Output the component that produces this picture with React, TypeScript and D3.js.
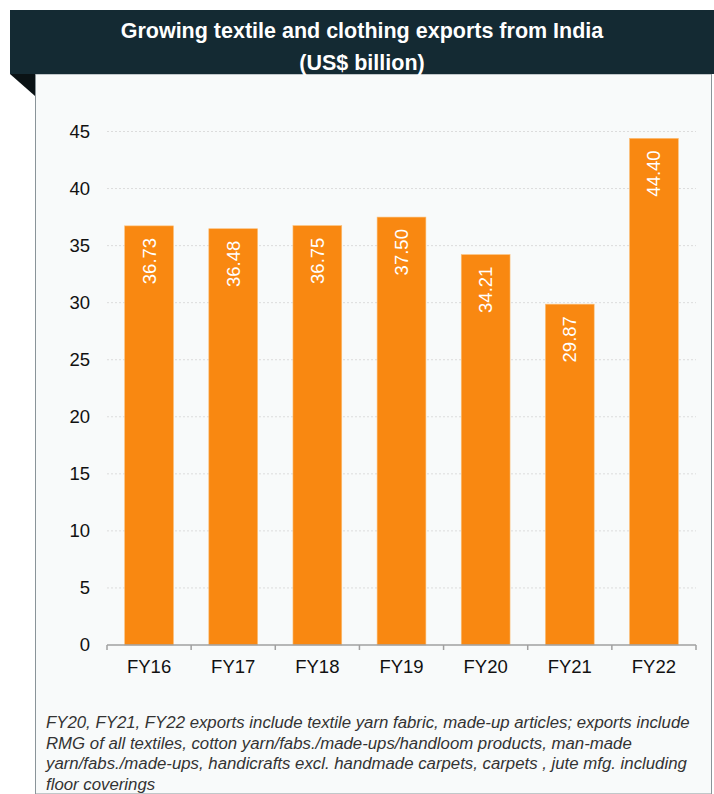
import * as d3 from "d3";

const categories = ["FY16", "FY17", "FY18", "FY19", "FY20", "FY21", "FY22"];
const values = [36.73, 36.48, 36.75, 37.5, 34.21, 29.87, 44.4];
const yTicks = [0, 5, 10, 15, 20, 25, 30, 35, 40, 45];
const titleLines = ["Growing textile and clothing exports from India", "(US$ billion)"];
const noteLines = [
  "FY20, FY21, FY22 exports include textile yarn fabric, made-up articles; exports include",
  "RMG of all textiles, cotton yarn/fabs./made-ups/handloom products, man-made",
  "yarn/fabs./made-ups, handicrafts excl. handmade carpets, carpets , jute mfg. including",
  "floor coverings",
];

const W = 714;
const H = 794;
const font = "Arial, 'Liberation Sans', sans-serif";

export default function App() {
  const x = d3.scaleBand<string>().domain(categories).range([107, 696]).paddingInner(0.42).paddingOuter(0.21);
  const y = d3.scaleLinear().domain([0, 45]).range([645, 131.5]);

  return (
    <svg width={W} height={H} style={{ position: "absolute", left: 0, top: 0, background: "#fff" }}>
      {/* panel */}
      <rect x={35.5} y={74} width={676} height={H - 74} fill="#f8fafa" stroke="#8a9499" strokeWidth={1} />
      {/* header band */}
      <rect x={10} y={10} width={W - 10} height={64} fill="#142a33" />
      <path d="M10,74 L35,74 L35,96 Z" fill="#0a1215" />
      {titleLines.map((t, i) => (
        <text key={t} x={362} y={30 + i * 32} dy="0.35em" textAnchor="middle" fill="#fff" fontFamily={font}
          fontWeight="bold" fontSize={21.5}>{t}</text>
      ))}

      {/* grid + y labels */}
      {yTicks.map((t) => (
        <g key={t}>
          {t > 0 && (
            <line x1={107} x2={696} y1={y(t)} y2={y(t)} stroke="#dcdcdc" strokeDasharray="2,2" />
          )}
          <text x={90} y={y(t)} dy="0.35em" textAnchor="end" fontFamily={font} fontSize={18.5} fill="#111">{t}</text>
        </g>
      ))}

      {/* bars */}
      {categories.map((c, i) => {
        const bx = x(c)!;
        const cx = bx + x.bandwidth() / 2;
        const top = y(values[i]);
        return (
          <g key={c}>
            <rect x={bx} y={top} width={x.bandwidth()} height={y(0) - top} fill="#f98811" stroke="#fcc07a" strokeWidth={0.6} />
            <text transform={`translate(${cx},${top + 12}) rotate(-90)`} textAnchor="end" dy="0.35em"
              fill="#fff" fontFamily={font} fontSize={18.5}>{values[i].toFixed(2)}</text>
          </g>
        );
      })}

      {/* x axis */}
      <line x1={107} x2={696} y1={y(0)} y2={y(0)} stroke="#a0a0a0" strokeWidth={1.5} />
      {d3.range(categories.length + 1).map((i) => {
        const tx = 107 + i * x.step();
        return <line key={i} x1={tx} x2={tx} y1={y(0)} y2={y(0) + 5} stroke="#a0a0a0" strokeWidth={1.5} />;
      })}
      {categories.map((c) => (
        <text key={c} x={x(c)! + x.bandwidth() / 2} y={667} dy="0.35em" textAnchor="middle" fontFamily={font}
          fontSize={18.5} fill="#111">{c}</text>
      ))}

      {/* note */}
      {noteLines.map((l, i) => (
        <text key={i} x={46} y={728 + i * 20.7} fontFamily={font} fontStyle="italic" fontSize={16.8} fill="#333">{l}</text>
      ))}
    </svg>
  );
}
